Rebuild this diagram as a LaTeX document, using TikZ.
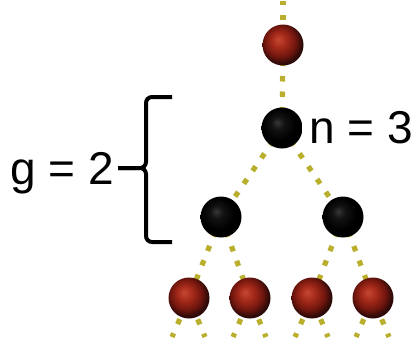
\documentclass[tikz,border=0pt]{standalone}
\usepackage{fontspec}
\setmainfont{Liberation Sans}
\pgfdeclarelayer{bg}
\pgfsetlayers{bg,main}
\definecolor{dashc}{RGB}{185,175,45}
\definecolor{rh}{RGB}{196,72,50}
\definecolor{rm}{RGB}{165,42,26}
\definecolor{rd}{RGB}{112,22,14}
\definecolor{re}{RGB}{45,10,8}
\definecolor{bh}{RGB}{55,55,55}
\definecolor{bm}{RGB}{18,18,18}
\pgfdeclareradialshading{redsph}{\pgfqpoint{-6bp}{7bp}}{color(0bp)=(rh); color(9bp)=(rm); color(19bp)=(rd); color(26bp)=(re); color(50bp)=(re)}
\pgfdeclareradialshading{blacksph}{\pgfqpoint{-6bp}{7bp}}{color(0bp)=(bh); color(8bp)=(bm); color(20bp)=(black); color(50bp)=(black)}
\begin{document}
\begin{tikzpicture}[x=1pt,y=-1pt,
  link/.style={draw=dashc, line width=5.2pt, dash pattern=on 5.5pt off 10pt},
  redball/.style={circle, minimum size=41pt, inner sep=0pt, shading=redsph},
  blackball/.style={circle, minimum size=41pt, inner sep=0pt, shading=blacksph},
  lbl/.style={font=\fontsize{46}{46}\selectfont, inner sep=0pt, anchor=base west},
  bracestyle/.style={line width=4pt, rounded corners=6pt}]
\useasboundingbox (0,0) rectangle (415,349);
% balls
\node[redball] (r0) at (283,45) {};
\node[blackball] (b1) at (282,128) {};
\node[blackball] (b2) at (221,217) {};
\node[blackball] (b3) at (343,217) {};
\node[redball] (r1) at (189,298) {};
\node[redball] (r2) at (250,298) {};
\node[redball] (r3) at (312,298) {};
\node[redball] (r4) at (373,298) {};
% free ends
\coordinate (top) at (283,1);
\coordinate (t1) at (172,337);
\coordinate (t2) at (205,337);
\coordinate (t3) at (233,337);
\coordinate (t4) at (266,337);
\coordinate (t5) at (295,337);
\coordinate (t6) at (328,337);
\coordinate (t7) at (356,337);
\coordinate (t8) at (389,337);
% connectors
\begin{pgfonlayer}{bg}
\fill[white] (0,0) rectangle (415,349);
\draw[link, dash phase=2pt] (top) -- (r0.center);
\draw[link] (r0.center) -- (b1.center);
\draw[link] (b1.center) -- (b2.center);
\draw[link] (b1.center) -- (b3.center);
\draw[link] (b2.center) -- (r1.center);
\draw[link] (b2.center) -- (r2.center);
\draw[link] (b3.center) -- (r3.center);
\draw[link] (b3.center) -- (r4.center);
\draw[link, dash phase=8pt] (r1.center) -- (t1);
\draw[link, dash phase=8pt] (r1.center) -- (t2);
\draw[link, dash phase=8pt] (r2.center) -- (t3);
\draw[link, dash phase=8pt] (r2.center) -- (t4);
\draw[link, dash phase=8pt] (r3.center) -- (t5);
\draw[link, dash phase=8pt] (r3.center) -- (t6);
\draw[link, dash phase=8pt] (r4.center) -- (t7);
\draw[link, dash phase=8pt] (r4.center) -- (t8);
\end{pgfonlayer}
% labels
\node[lbl] (nlab) at (309,143) {n = 3};
\node[lbl] (glab) at (10,184) {g = 2};
% brace
\draw[bracestyle] (172,97) -- (146,97) -- (146,168) -- (118,168);
\draw[bracestyle] (172,242) -- (146,242) -- (146,168) -- (118,168);
\end{tikzpicture}
\end{document}
